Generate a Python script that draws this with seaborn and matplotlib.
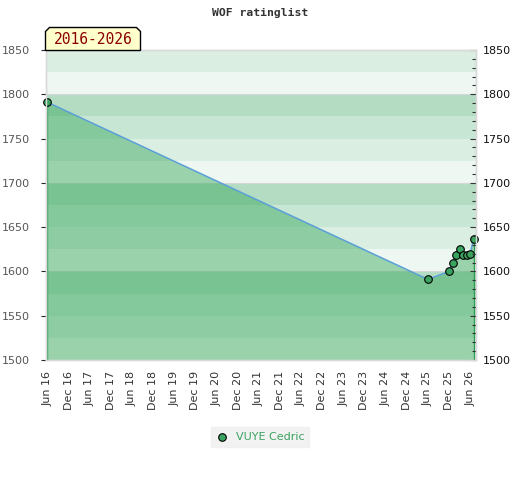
import numpy as np
import pandas as pd
import matplotlib
matplotlib.use("Agg")
import matplotlib.pyplot as plt
import matplotlib.dates as mdates
from matplotlib.patches import Polygon
from matplotlib.ticker import MultipleLocator
import seaborn as sns

# dữ liệu
dates = ["2016-06-01", "2025-06-01", "2025-12-01", "2026-01-01", "2026-02-01",
         "2026-03-01", "2026-04-01", "2026-05-01", "2026-06-01", "2026-07-01"]
ratings = [1791, 1591, 1600, 1610, 1618, 1625, 1618, 1618, 1620, 1637]
player = "VUYE Cedric"
period = "2016-2026"
title = "WOF ratinglist"

df = pd.DataFrame({"date": pd.to_datetime(dates), "rating": ratings})

sns.set_style("white")
plt.rcParams["font.family"] = ["DejaVu Sans"]

fig = plt.figure(figsize=(5.2, 4.8), dpi=100)
ax = fig.add_axes([46 / 520, 1 - 360 / 480, (475.5 - 46) / 520, 310 / 480])

# dải nền mỗi 25 điểm
band_colors = ["#eef7f1", "#daeee2", "#c8e6d4", "#b3dcc2"]
for lo in range(1500, 1850, 25):
    ax.axhspan(lo, lo + 25, color=band_colors[(lo % 100) // 25], lw=0, zorder=0)
for y in range(1500, 1851, 100):
    ax.axhline(y, color="#d6d6d6", lw=0.8, zorder=0.5)

ax.fill_between(df["date"], df["rating"], 1500, color="#2da453", alpha=0.44,
                lw=0, zorder=1)
ax.plot([df["date"].iloc[0]] * 2, [1500, df["rating"].iloc[0]], color="#2e9a55", lw=1, zorder=1.5)
ax.plot([df["date"].iloc[-1]] * 2, [1500, df["rating"].iloc[-1]], color="#2e9a55", lw=1, zorder=1.5)

sns.lineplot(data=df, x="date", y="rating", ax=ax, color="#5a9fd8", lw=1.1, zorder=2)
sns.scatterplot(data=df, x="date", y="rating", ax=ax, color="#3aa35f", edgecolor="black",
                linewidth=0.8, s=30, zorder=3, clip_on=False, label=player)

ax.set_xlim(pd.Timestamp("2016-05-20"), pd.Timestamp("2026-07-17"))
ax.set_ylim(1500, 1850)
ax.set_xlabel("")
ax.set_ylabel("")

ax.xaxis.set_major_locator(mdates.MonthLocator(bymonth=[6, 12]))
ax.xaxis.set_major_formatter(mdates.DateFormatter("%b %y"))
ax.tick_params(axis="x", length=0, pad=8, labelsize=8, labelcolor="#333333", rotation=90)

ax.yaxis.set_major_locator(MultipleLocator(50))
ax.tick_params(axis="y", which="both", left=False, right=False, labelleft=True,
               labelsize=8, labelcolor="#555555", pad=8)

# trục phải: vạch chia và nhãn
ax2 = ax.twinx()
ax2.set_ylim(ax.get_ylim())
ax2.yaxis.set_major_locator(MultipleLocator(50))
ax2.yaxis.set_minor_locator(MultipleLocator(10))
ax2.tick_params(axis="y", which="both", direction="in", labelsize=8, labelcolor="#111111",
                color="#333333", width=0.8)
ax2.tick_params(axis="y", which="major", length=4, pad=5)
ax2.tick_params(axis="y", which="minor", length=3)

for a in (ax, ax2):
    for s in a.spines.values():
        s.set_color("#d9d9d9")
        s.set_linewidth(1)

fig.text(0.5, 1 - 13 / 480, title, ha="center", va="center", fontsize=8.2,
         family="DejaVu Sans Mono", weight="bold", color="#333333")

# nhãn giai đoạn có góc cắt
x0, x1, y0, y1, c = 45.5, 140.5, 480 - 50.5, 480 - 27.5, 4
pts = [(x0, y0), (x0, y1 - c), (x0 + c, y1), (x1 - c, y1), (x1, y1 - c), (x1, y0)]
fig.patches.append(Polygon([(px / 520, py / 480) for px, py in pts], closed=True,
                           transform=fig.transFigure, facecolor="#ffffcc",
                           edgecolor="black", lw=1, zorder=5))
fig.text(93 / 520, 1 - 40 / 480, period, ha="center", va="center", fontsize=10.5,
         family="DejaVu Sans Mono", color="#8b0000", zorder=6)

leg = ax.legend(loc="center", bbox_to_anchor=(0.5, 1 - 436.5 / 480), bbox_transform=fig.transFigure,
                frameon=True, fancybox=False, fontsize=8, handletextpad=0.6,
                borderpad=0.45, handlelength=1.2)
leg.get_frame().set_facecolor("#efefef")
leg.get_frame().set_edgecolor("#efefef")
for txt in leg.get_texts():
    txt.set_color("#3aa35f")

fig.savefig("out.png", dpi=100)
